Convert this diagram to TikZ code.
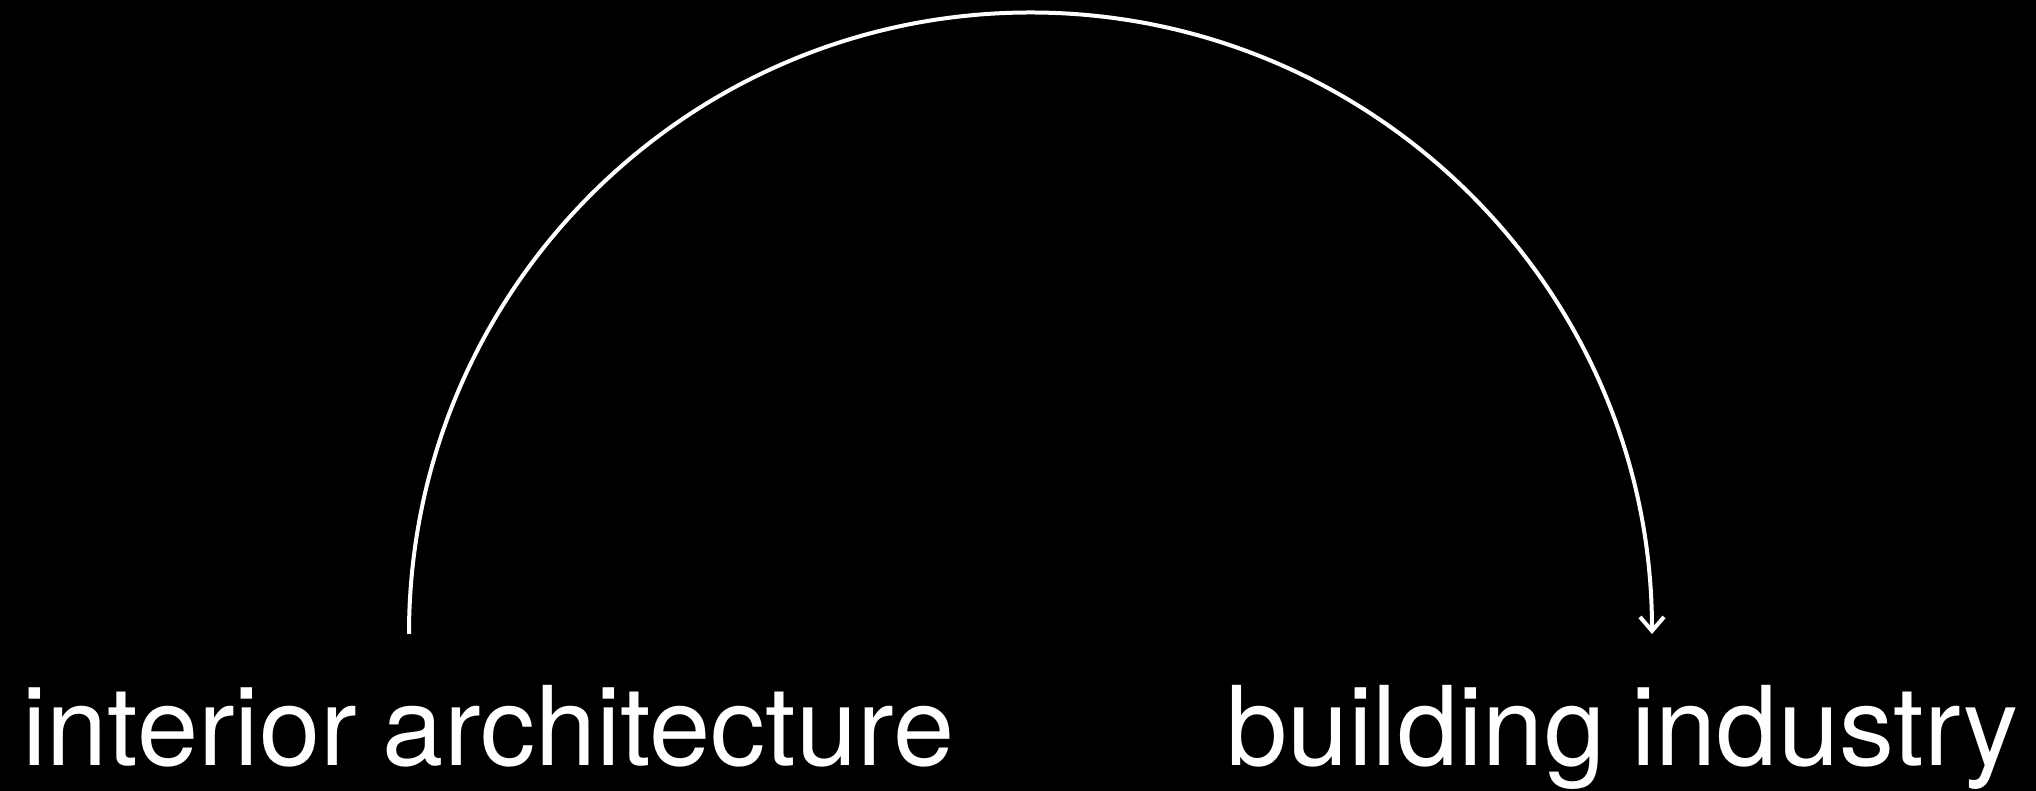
\documentclass[tikz,border=0pt]{standalone}
\usepackage{fontspec}
\setmainfont[WordSpace=0.85]{TeX Gyre Heros}
\usetikzlibrary{arrows.meta}
\begin{document}
\begin{tikzpicture}[
  x=0.5pt, y=0.5pt,
  field/.style={text=white, inner sep=0pt, font=\fontsize{55}{61}\selectfont},
  bow/.style={draw=white, line width=2pt, -{Straight Barb[length=7pt, width=12pt]}}
]
\fill[black] (0,0) rectangle (2036,791);
\node[field, anchor=base west] (interior) at (22,25) {interior architecture};
\node[field, anchor=base east] (building) at (2019,25) {building industry};
\coordinate (from) at (409,157);
\draw[bow] (from) arc[start angle=180, end angle=0, radius=621.5];
\end{tikzpicture}
\end{document}
